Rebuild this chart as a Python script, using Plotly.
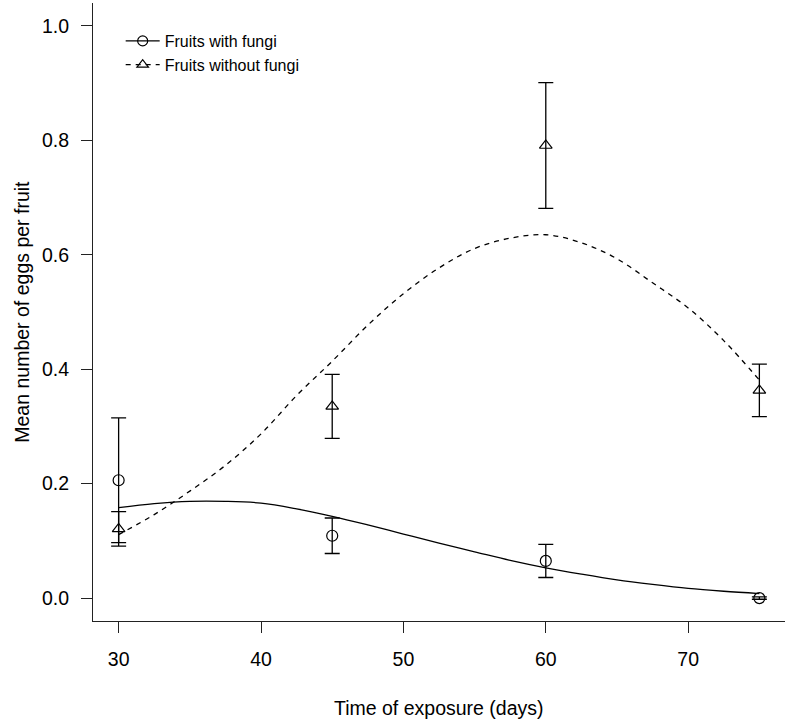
import plotly.graph_objects as go

# Observed means and standard errors
days = [30, 45, 60, 75]
with_fungi = [0.206, 0.109, 0.065, 0.0]
with_fungi_se = [0.109, 0.031, 0.029, 0.002]
without_fungi = [0.121, 0.335, 0.791, 0.363]
without_fungi_se = [0.030, 0.056, 0.110, 0.046]

# Fitted curves
fit_days = [30, 32.5, 35, 37.5, 40, 42.5, 45, 47.5, 50, 52.5, 55, 57.5, 60,
            62.5, 65, 67.5, 70, 72.5, 75]
fit_with_fungi = [0.158, 0.165, 0.169, 0.169, 0.166, 0.156, 0.143, 0.128, 0.112,
                  0.096, 0.081, 0.066, 0.053, 0.042, 0.032, 0.024, 0.017, 0.012, 0.008]
fit_without_fungi = [0.111, 0.146, 0.187, 0.232, 0.287, 0.354, 0.414, 0.477, 0.532,
                     0.577, 0.611, 0.629, 0.635, 0.621, 0.593, 0.551, 0.507, 0.450, 0.381]

x_ticks = [30, 40, 50, 60, 70]
y_ticks = [0.0, 0.2, 0.4, 0.6, 0.8, 1.0]

FONT = "Liberation Sans, Arial, Helvetica, sans-serif"
INK = "#000000"

fig = go.Figure()

# fitted curves (not in legend)
fig.add_trace(go.Scatter(
    x=fit_days, y=fit_with_fungi, mode="lines", line=dict(color=INK, width=1.3, shape="spline"),
    showlegend=False, hoverinfo="skip"))
fig.add_trace(go.Scatter(
    x=fit_days, y=fit_without_fungi, mode="lines",
    line=dict(color=INK, width=1.3, dash="5px,5px", shape="spline"),
    showlegend=False, hoverinfo="skip"))

# points with error bars
fig.add_trace(go.Scatter(
    x=days, y=with_fungi, mode="markers",
    marker=dict(symbol="circle-open", size=11, color=INK, line=dict(width=1.2, color=INK)),
    error_y=dict(type="data", array=with_fungi_se, visible=True, color=INK, thickness=1.3, width=7.5),
    showlegend=False))
fig.add_trace(go.Scatter(
    x=days, y=without_fungi, mode="markers",
    marker=dict(symbol="triangle-up-open", size=11, color=INK, line=dict(width=1.2, color=INK)),
    error_y=dict(type="data", array=without_fungi_se, visible=True, color=INK, thickness=1.3, width=7.5),
    showlegend=False))

# legend entries
fig.add_trace(go.Scatter(
    x=[None], y=[None], mode="lines+markers", name="Fruits with fungi",
    line=dict(color=INK, width=1.3),
    marker=dict(symbol="circle-open", size=10, color=INK, line=dict(width=1.2, color=INK))))
fig.add_trace(go.Scatter(
    x=[None], y=[None], mode="lines+markers", name="Fruits without fungi",
    line=dict(color=INK, width=1.3, dash="5px,5px"),
    marker=dict(symbol="triangle-up-open", size=10, color=INK, line=dict(width=1.2, color=INK))))

axis_common = dict(
    showgrid=False, zeroline=False, showline=True, linecolor="#222222", linewidth=1,
    ticks="outside", ticklen=11, tickcolor="#222222", tickwidth=1,
    tickfont=dict(family=FONT, size=19.5, color=INK), mirror=False,
)

fig.update_layout(
    width=788, height=720,
    margin=dict(l=93, r=3, t=3, b=99),
    plot_bgcolor="white", paper_bgcolor="white",
    font=dict(family=FONT, color=INK),
    xaxis=dict(range=[28.2, 76.8], tickvals=x_ticks, ticktext=[str(v) for v in x_ticks],
               ticklabelstandoff=10, **axis_common),
    yaxis=dict(range=[-0.04, 1.04], tickvals=y_ticks, ticktext=[f"{v:.1f}" for v in y_ticks],
               ticklabelstandoff=8, **axis_common),
    legend=dict(x=0.04, y=0.966, xanchor="left", yanchor="top", itemwidth=34,
                font=dict(family=FONT, size=16, color=INK),
                bgcolor="rgba(0,0,0,0)", borderwidth=0, tracegroupgap=0),
    annotations=[
        dict(text="Time of exposure (days)", xref="paper", yref="paper", x=0.5, y=-0.1408,
             xanchor="center", yanchor="middle", showarrow=False,
             font=dict(family=FONT, size=19.5, color=INK)),
        dict(text="Mean number of eggs per fruit", xref="paper", yref="paper", x=-0.103, y=0.5,
             xanchor="center", yanchor="middle", showarrow=False, textangle=-90,
             font=dict(family=FONT, size=19.5, color=INK)),
    ],
)

fig.write_html("out.html", config={"displayModeBar": False},
               post_script="document.body.style.margin='0';document.body.style.padding='0';")
